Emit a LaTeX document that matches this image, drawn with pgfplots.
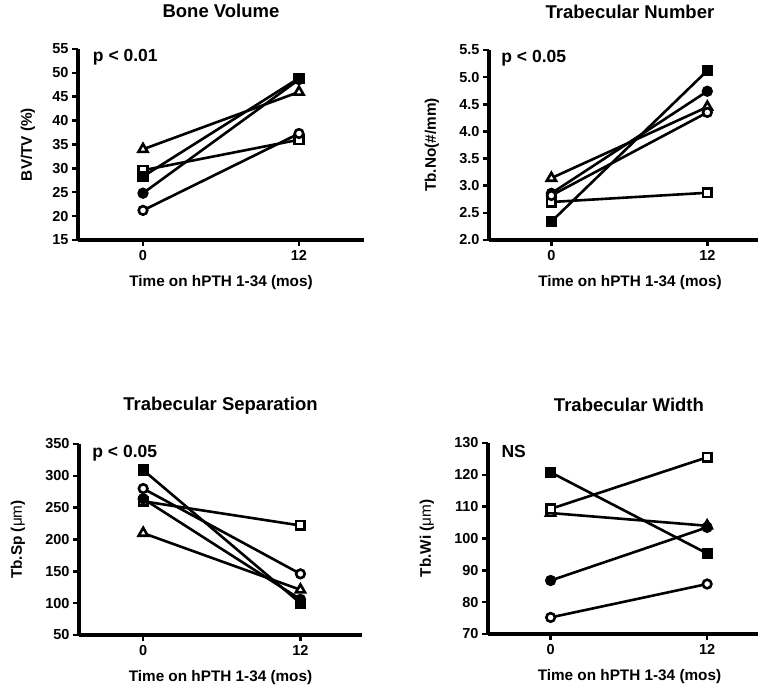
\documentclass[border=0pt]{standalone}
\usepackage{fontspec}
\setmainfont{Liberation Sans}
\usepackage{pgfplots}
\pgfplotsset{compat=1.18}
\newcommand{\fs}[1]{\fontsize{#1}{#1}\selectfont\bfseries}
\pgfplotsset{
  pth/.style={
    scale only axis,
    axis lines=left,
    separate axis lines,
    axis line style={-, line width=4pt},
    tick align=outside, major tick length=6pt,
    tick style={line width=2.5pt, black},
    xmin=-5, xmax=17, xtick={0,12},
    /pgf/number format/assume math mode=true,
    ticklabel style={font=\fs{14.5}},
    xticklabel style={yshift=-1pt},
    label style={font=\fs{15.3}},
    title style={font=\fs{18.5}, anchor=center, at={(axis description cs:0.5,1)}, yshift=32pt},
    xlabel style={at={(axis description cs:0.5,0)}, anchor=center, yshift=-43pt},
    xlabel={Time on hPTH 1-34 (mos)},
    clip=false,
  },
  subj/.style={line width=2.6pt, black, mark size=4.3pt, mark options={line width=1.5pt, solid}},
  otri/.style={subj, mark=triangle*, mark options={fill=white, mark size=5.3pt}},
  osq/.style={subj, mark=square*, mark options={fill=white}},
  fsq/.style={subj, mark=square*, mark options={fill=black}},
  fci/.style={subj, mark=*, mark options={fill=black}},
  oci/.style={subj, mark=*, mark options={fill=white}},
}
\begin{document}
\begin{tikzpicture}
\useasboundingbox (0pt,0pt) rectangle (758pt,687pt);

% Bone Volume
\begin{axis}[pth, at={(78pt,447pt)}, anchor=south west, width=286pt, height=191pt,
  title={Bone Volume}, ylabel={BV/TV (\%)},
  ylabel style={at={(axis description cs:-0.175,0.5)}, anchor=center},
  ymin=15, ymax=55, ytick={15,20,...,55}]
\addplot[otri] coordinates {(0,34) (12,46)};
\addplot[osq] coordinates {(0,29.6) (12,36)};
\addplot[fsq] coordinates {(0,28.3) (12,48.9)};
\addplot[fci] coordinates {(0,24.8) (12,48.6)};
\addplot[oci] coordinates {(0,21.2) (12,37.3)};
\node[anchor=west, font=\fs{17.5}] at (axis description cs:0.04,0.958) {p < 0.01};
\end{axis}

% Trabecular Number
\begin{axis}[pth, at={(489pt,447pt)}, anchor=south west, width=269pt, height=190pt,
  xmin=-4.8, xmax=15.9,
  title={Trabecular Number}, title style={at={(axis description cs:0.524,1)}},
  xlabel style={at={(axis description cs:0.524,0)}},
  ylabel={Tb.No(\#/mm)},
  ylabel style={at={(axis description cs:-0.212,0.5)}, anchor=center},
  ymin=2, ymax=5.5, ytick={2,2.5,...,5.5},
  yticklabel style={/pgf/number format/.cd, fixed, fixed zerofill, precision=1}]
\addplot[otri] coordinates {(0,3.14) (12,4.45)};
\addplot[osq] coordinates {(0,2.70) (12,2.87)};
\addplot[fsq] coordinates {(0,2.34) (12,5.12)};
\addplot[fci] coordinates {(0,2.86) (12,4.74)};
\addplot[oci] coordinates {(0,2.82) (12,4.35)};
\node[anchor=west, font=\fs{17.5}] at (axis description cs:0.033,0.958) {p < 0.05};
\end{axis}

% Trabecular Separation
\begin{axis}[pth, at={(79pt,52pt)}, anchor=south west, width=283pt, height=191pt,
  xmin=-4.9, xmax=16.7,
  title={Trabecular Separation}, ylabel={Tb.Sp ({\mdseries μm})},
  ylabel style={at={(axis description cs:-0.216,0.5)}, anchor=center},
  ymin=50, ymax=350, ytick={50,100,...,350}]
\addplot[otri] coordinates {(0,210) (12,121)};
\addplot[osq] coordinates {(0,260) (12,222)};
\addplot[fsq] coordinates {(0,309) (12,100)};
\addplot[fci] coordinates {(0,264) (12,106)};
\addplot[oci] coordinates {(0,280) (12,146)};
\node[anchor=west, font=\fs{17.5}] at (axis description cs:0.035,0.953) {p < 0.05};
\end{axis}

% Trabecular Width
\begin{axis}[pth, at={(488pt,53pt)}, anchor=south west, width=270pt, height=191pt,
  xmin=-4.8, xmax=15.9,
  title={Trabecular Width}, title style={at={(axis description cs:0.522,1)}},
  xlabel style={at={(axis description cs:0.524,0)}},
  ylabel={Tb.Wi ({\mdseries μm})},
  ylabel style={at={(axis description cs:-0.226,0.5)}, anchor=center},
  ymin=70, ymax=130, ytick={70,80,...,130}]
\addplot[otri] coordinates {(0,108) (12,104)};
\addplot[osq] coordinates {(0,109.3) (12,125.5)};
\addplot[fsq] coordinates {(0,120.8) (12,95.3)};
\addplot[fci] coordinates {(0,86.8) (12,103.5)};
\addplot[oci] coordinates {(0,75.2) (12,85.7)};
\node[anchor=west, font=\fs{17.5}] at (axis description cs:0.037,0.953) {NS};
\end{axis}
\end{tikzpicture}
\end{document}
